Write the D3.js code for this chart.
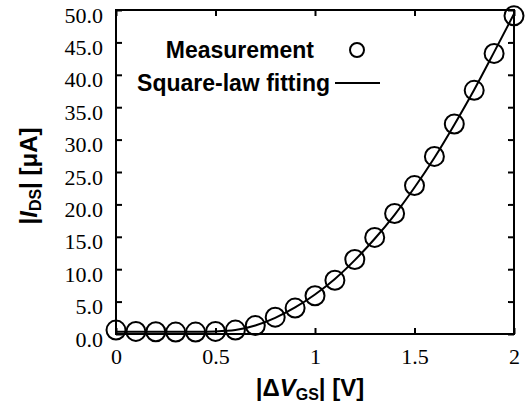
<!DOCTYPE html>
<html>
<head>
<meta charset="utf-8">
<script src="https://cdn.jsdelivr.net/npm/d3@7"></script>
<style>
  body { margin: 0; background: #fff; }
  .tick text { font-family: "Liberation Serif", "Times New Roman", serif; font-size: 22px; fill: #000; }
  .tick line { stroke: #000; stroke-width: 2; }
  .title { font-family: "Liberation Sans", Arial, sans-serif; font-weight: bold; font-size: 24px; fill: #000; }
  .legend { font-family: "Liberation Sans", Arial, sans-serif; font-weight: bold; font-size: 23px; fill: #000; }
</style>
</head>
<body>
<div id="chart"></div>
<script>
// data
const vgs = [0, 0.1, 0.2, 0.3, 0.4, 0.5, 0.6, 0.7, 0.8, 0.9, 1.0,
             1.1, 1.2, 1.3, 1.4, 1.5, 1.6, 1.7, 1.8, 1.9, 2.0];
const measured = [0.6, 0.4, 0.35, 0.3, 0.3, 0.4, 0.6, 1.3, 2.6, 4.0, 5.9,
                  8.3, 11.5, 14.9, 18.6, 22.9, 27.4, 32.4, 37.6, 43.3, 49.1];
const fitted = [0.35, 0.35, 0.35, 0.35, 0.35, 0.4, 0.6, 1.3, 2.5, 4.1, 6.1,
                8.5, 11.4, 14.7, 18.4, 22.6, 27.2, 32.3, 37.7, 43.5, 49.4];
const xTicks = [0, 0.5, 1, 1.5, 2];
const xTickLabels = ["0", "0.5", "1", "1.5", "2"];
const yTicks = [0, 5, 10, 15, 20, 25, 30, 35, 40, 45, 50];

const margin = {top: 10, right: 18, bottom: 75, left: 116};
const width = 532 - margin.left - margin.right;
const height = 409 - margin.top - margin.bottom;

const root = d3.select('#chart')
  .append('svg')
  .attr('width', 532)
  .attr('height', 409);

const svg = root.append('g')
  .attr('transform', 'translate(' + margin.left + ',' + margin.top + ')');

const xScale = d3.scaleLinear().domain([0, 2]).range([0, width]);
const yScale = d3.scaleLinear().domain([0, 50]).range([height, 0]);

// axes with inward ticks
const xAxis = d3.axisBottom(xScale).tickValues(xTicks)
  .tickFormat((d, i) => xTickLabels[i]).tickSizeInner(-6).tickSizeOuter(0).tickPadding(14);
const xAxisTop = d3.axisTop(xScale).tickValues(xTicks).tickFormat('').tickSizeInner(-6).tickSizeOuter(0);
const yAxis = d3.axisLeft(yScale).tickValues(yTicks)
  .tickFormat(d3.format('.1f')).tickSizeInner(-6).tickSizeOuter(0).tickPadding(13);
const yAxisRight = d3.axisRight(yScale).tickValues(yTicks).tickFormat('').tickSizeInner(-6).tickSizeOuter(0);

svg.append('g').attr('class', 'axis x-axis')
  .attr('transform', 'translate(0,' + height + ')').call(xAxis);
svg.append('g').attr('class', 'axis').call(xAxisTop);
svg.append('g').attr('class', 'axis y-axis').call(yAxis);
svg.append('g').attr('class', 'axis')
  .attr('transform', 'translate(' + width + ',0)').call(yAxisRight);

svg.selectAll('.axis .domain').remove();
svg.select('.x-axis').selectAll('text').attr('dy', '0.71em');
// labels sit a little below their ticks, as in the original
svg.select('.y-axis').selectAll('text').attr('dy', '0.55em');

// frame
svg.append('rect')
  .attr('width', width).attr('height', height)
  .attr('fill', 'none').attr('stroke', '#000').attr('stroke-width', 2);

// fitting line
const line = d3.line()
  .x((d, i) => xScale(vgs[i]))
  .y(d => yScale(d))
  .curve(d3.curveMonotoneX);

svg.append('path')
  .datum(fitted)
  .attr('d', line)
  .attr('fill', 'none')
  .attr('stroke', '#000')
  .attr('stroke-width', 2);

// measurement circles
svg.selectAll('.pt')
  .data(measured)
  .join('circle')
  .attr('class', 'pt')
  .attr('cx', (d, i) => xScale(vgs[i]))
  .attr('cy', d => yScale(d))
  .attr('r', 9.5)
  .attr('fill', 'none')
  .attr('stroke', '#000')
  .attr('stroke-width', 2);

// legend
root.append('text').attr('class', 'legend')
  .attr('x', 314).attr('y', 58).attr('text-anchor', 'end').text('Measurement');
root.append('circle')
  .attr('cx', 357).attr('cy', 50).attr('r', 7)
  .attr('fill', 'none').attr('stroke', '#000').attr('stroke-width', 2);
root.append('text').attr('class', 'legend')
  .attr('x', 330).attr('y', 91).attr('text-anchor', 'end').text('Square-law fitting');
root.append('line')
  .attr('x1', 335).attr('x2', 380).attr('y1', 83).attr('y2', 83)
  .attr('stroke', '#000').attr('stroke-width', 2);

// axis titles
const xt = root.append('text').attr('class', 'title')
  .attr('x', 310).attr('y', 396).attr('text-anchor', 'middle');
xt.append('tspan').text('|\u0394');
xt.append('tspan').attr('font-style', 'italic').text('V');
xt.append('tspan').attr('font-size', '16px').attr('dy', 4).text('GS');
xt.append('tspan').attr('dy', -4).text('| [V]');

const yt = root.append('text').attr('class', 'title')
  .attr('transform', 'translate(37,176) rotate(-90)')
  .attr('text-anchor', 'middle');
yt.append('tspan').text('|');
yt.append('tspan').attr('font-style', 'italic').text('I');
yt.append('tspan').attr('font-size', '16px').attr('dy', 4).text('DS');
yt.append('tspan').attr('dy', -4).text('| [\u03bcA]');
</script>
</body>
</html>
